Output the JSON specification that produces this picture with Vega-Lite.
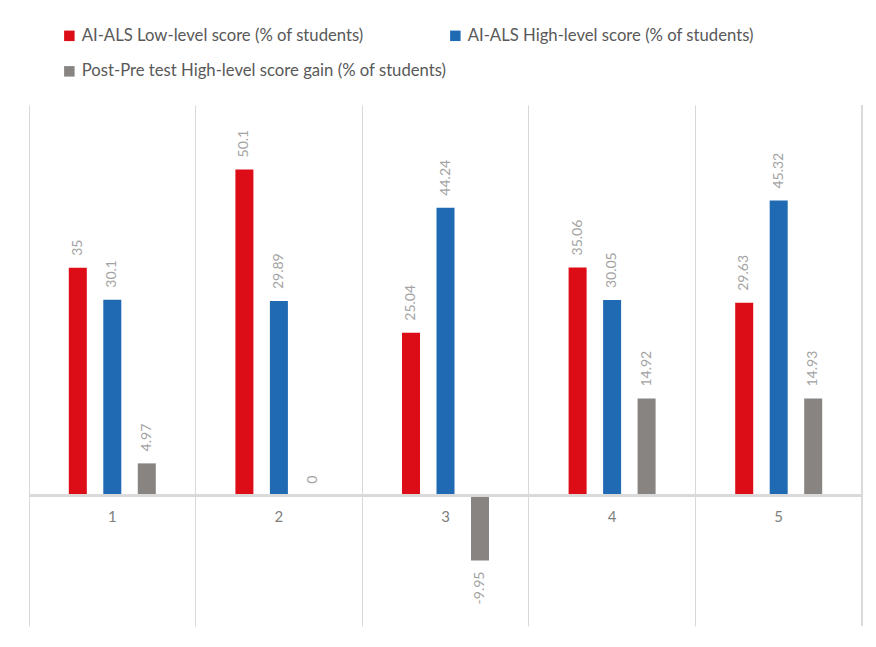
{
  "$schema": "https://vega.github.io/schema/vega-lite/v6.json",
  "width": 833,
  "height": 521,
  "padding": {"left": 29, "top": 105, "right": 14, "bottom": 21},
  "autosize": {"type": "none"},
  "background": "white",
  "config": {"view": {"stroke": null}, "font": "Lato"},
  "data": {
    "values": [
      {"group": "1", "series": "AI-ALS Low-level score (% of students)", "value": 35},
      {"group": "1", "series": "AI-ALS High-level score (% of students)", "value": 30.1},
      {"group": "1", "series": "Post-Pre test High-level score gain (% of students)", "value": 4.97},
      {"group": "2", "series": "AI-ALS Low-level score (% of students)", "value": 50.1},
      {"group": "2", "series": "AI-ALS High-level score (% of students)", "value": 29.89},
      {"group": "2", "series": "Post-Pre test High-level score gain (% of students)", "value": 0},
      {"group": "3", "series": "AI-ALS Low-level score (% of students)", "value": 25.04},
      {"group": "3", "series": "AI-ALS High-level score (% of students)", "value": 44.24},
      {"group": "3", "series": "Post-Pre test High-level score gain (% of students)", "value": -9.95},
      {"group": "4", "series": "AI-ALS Low-level score (% of students)", "value": 35.06},
      {"group": "4", "series": "AI-ALS High-level score (% of students)", "value": 30.05},
      {"group": "4", "series": "Post-Pre test High-level score gain (% of students)", "value": 14.92},
      {"group": "5", "series": "AI-ALS Low-level score (% of students)", "value": 29.63},
      {"group": "5", "series": "AI-ALS High-level score (% of students)", "value": 45.32},
      {"group": "5", "series": "Post-Pre test High-level score gain (% of students)", "value": 14.93}
    ]
  },
  "encoding": {
    "x": {
      "field": "group",
      "type": "ordinal",
      "scale": {"paddingInner": 0, "paddingOuter": 0},
      "axis": {
        "grid": true,
        "bandPosition": 0,
        "gridColor": "#d9d9d9",
        "gridWidth": 1,
        "labels": false,
        "ticks": false,
        "domain": false,
        "title": null
      }
    },
    "xOffset": {
      "field": "series",
      "type": "nominal",
      "scale": {
        "domain": [
          "_padL",
          "AI-ALS Low-level score (% of students)",
          "AI-ALS High-level score (% of students)",
          "Post-Pre test High-level score gain (% of students)",
          "_padR"
        ],
        "paddingInner": 0.478,
        "paddingOuter": 0.154
      }
    },
    "y": {
      "field": "value",
      "type": "quantitative",
      "scale": {"domain": [-20, 60], "nice": false, "zero": true},
      "axis": null
    }
  },
  "layer": [
    {
      "mark": {"type": "bar"},
      "encoding": {
        "color": {
          "field": "series",
          "type": "nominal",
          "scale": {
            "domain": [
              "AI-ALS Low-level score (% of students)",
              "AI-ALS High-level score (% of students)",
              "Post-Pre test High-level score gain (% of students)"
            ],
            "range": ["#dc0d17", "#206ab4", "#878482"]
          },
          "legend": {
            "orient": "none",
            "legendX": 32,
            "legendY": -78,
            "title": null,
            "columns": 2,
            "direction": "horizontal",
            "symbolType": "square",
            "symbolSize": 110,
            "symbolStrokeWidth": 0,
            "symbolOpacity": 1,
            "labelFontSize": 16.7,
            "labelColor": "#595959",
            "labelOffset": 4,
            "labelLimit": 500,
            "columnPadding": 0,
            "rowPadding": 18
          }
        }
      }
    },
    {
      "mark": {"type": "rule", "color": "#d9d9d9", "strokeWidth": 2},
      "encoding": {"x": null, "xOffset": null, "y": {"datum": 0, "type": "quantitative"}}
    },
    {
      "mark": {"type": "rule", "color": "#d9d9d9", "strokeWidth": 1},
      "encoding": {"x": {"datum": "5", "type": "ordinal", "bandPosition": 1}, "xOffset": null, "y": null}
    },
    {
      "transform": [{"filter": "datum.value >= 0"}],
      "mark": {"type": "text", "angle": 270, "align": "left", "baseline": "middle", "dx": 12, "color": "#a3a3a3", "fontSize": 14},
      "encoding": {"text": {"field": "value", "type": "nominal"}}
    },
    {
      "transform": [{"filter": "datum.value < 0"}],
      "mark": {"type": "text", "angle": 270, "align": "right", "baseline": "middle", "dx": -11, "color": "#a3a3a3", "fontSize": 14},
      "encoding": {"text": {"field": "value", "type": "nominal"}}
    },
    {
      "transform": [{"filter": "datum.series == 'AI-ALS Low-level score (% of students)'"}],
      "mark": {"type": "text", "align": "center", "baseline": "middle", "dy": 21, "color": "#7f7f7f", "fontSize": 15},
      "encoding": {"xOffset": null, "y": {"datum": 0, "type": "quantitative"}, "text": {"field": "group", "type": "nominal"}}
    }
  ]
}
